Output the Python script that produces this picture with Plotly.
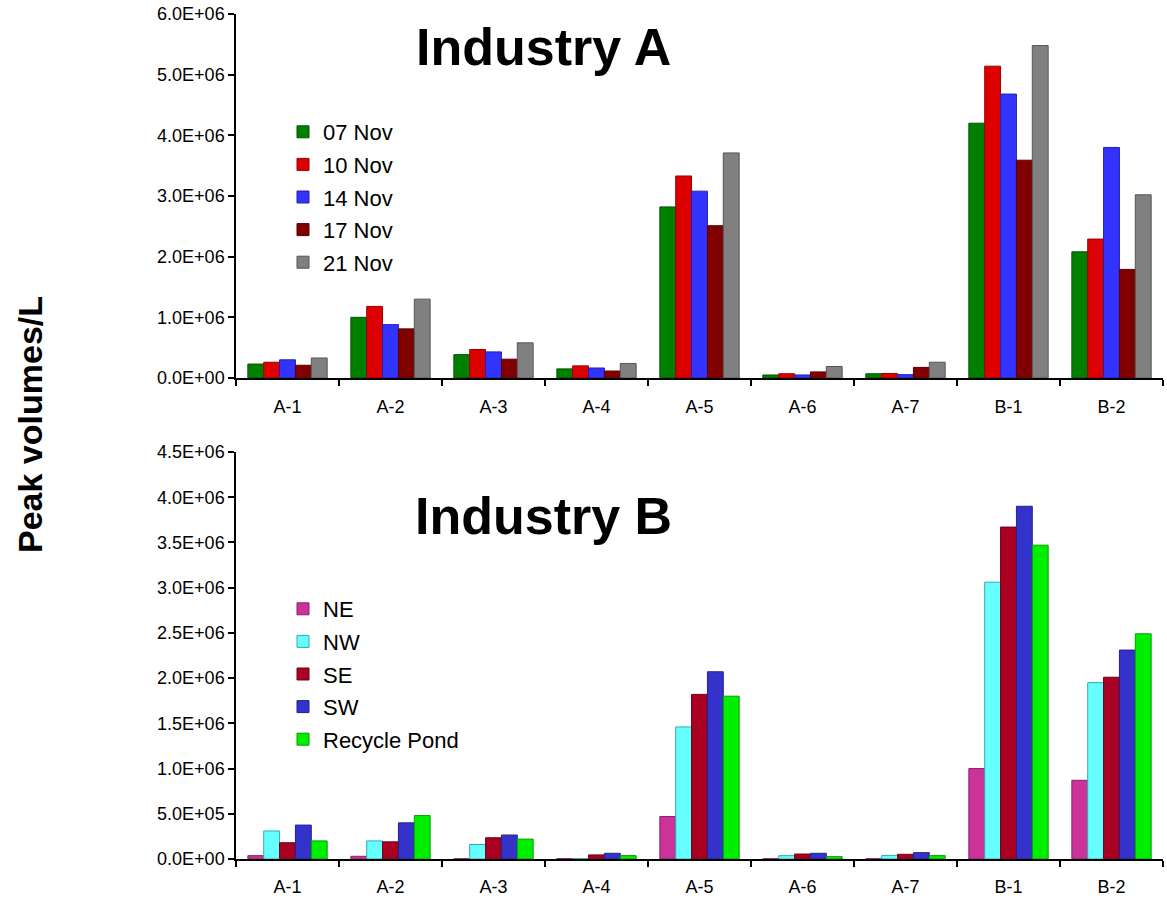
import plotly.graph_objects as go

categories = ["A-1", "A-2", "A-3", "A-4", "A-5", "A-6", "A-7", "B-1", "B-2"]

# Industry A (sampling dates)
nov07 = [0.23e6, 1.00e6, 0.385e6, 0.15e6, 2.82e6, 0.05e6, 0.07e6, 4.20e6, 2.08e6]
nov10 = [0.26e6, 1.18e6, 0.47e6, 0.20e6, 3.33e6, 0.07e6, 0.075e6, 5.14e6, 2.29e6]
nov14 = [0.30e6, 0.88e6, 0.43e6, 0.165e6, 3.08e6, 0.05e6, 0.055e6, 4.68e6, 3.80e6]
nov17 = [0.21e6, 0.81e6, 0.31e6, 0.115e6, 2.51e6, 0.10e6, 0.175e6, 3.59e6, 1.79e6]
nov21 = [0.33e6, 1.30e6, 0.58e6, 0.24e6, 3.71e6, 0.19e6, 0.26e6, 5.48e6, 3.02e6]

# Industry B (locations)
ne = [0.037e6, 0.03e6, 0.003e6, 0.005e6, 0.47e6, 0.003e6, 0.003e6, 1.00e6, 0.87e6]
nw = [0.31e6, 0.20e6, 0.16e6, 0.005e6, 1.46e6, 0.037e6, 0.04e6, 3.06e6, 1.95e6]
se = [0.18e6, 0.19e6, 0.235e6, 0.045e6, 1.82e6, 0.055e6, 0.052e6, 3.67e6, 2.01e6]
sw = [0.375e6, 0.40e6, 0.265e6, 0.063e6, 2.07e6, 0.063e6, 0.07e6, 3.90e6, 2.31e6]
pond = [0.20e6, 0.48e6, 0.22e6, 0.037e6, 1.80e6, 0.026e6, 0.037e6, 3.47e6, 2.49e6]

top_names = ["07 Nov", "10 Nov", "14 Nov", "17 Nov", "21 Nov"]
top_series = [nov07, nov10, nov14, nov17, nov21]
top_colors = ["#008000", "#DD0000", "#3333FF", "#800000", "#808080"]
top_edges = ["#005500", "#990000", "#2222AA", "#550000", "#555555"]

bot_names = ["NE", "NW", "SE", "SW", "Recycle Pond"]
bot_series = [ne, nw, se, sw, pond]
bot_colors = ["#CC3399", "#66FFFF", "#AA0022", "#3333CC", "#00EE00"]
bot_edges = ["#8A2268", "#33AAAA", "#700016", "#222288", "#00A000"]

top_ticks = [i * 1.0e6 for i in range(7)]
bot_ticks = [i * 0.5e6 for i in range(10)]

FONT = "Liberation Sans, Arial, sans-serif"

# body margin removed in the page (post_script), figure fills the window
OFF = 0
W, H = 1167, 909
L, R, T, B = 236, 4, 14, 50
pw = W - L - R
ph = H - T - B


def px_x(page_x):
    return (page_x - OFF - L) / pw


def px_y(page_y):
    return (H - B - (page_y - OFF)) / ph


fig = go.Figure()
for i, (name, vals, c, e) in enumerate(zip(top_names, top_series, top_colors, top_edges)):
    fig.add_trace(go.Bar(x=categories, y=vals, name=name, legendgroup=f"a{i}",
                         marker=dict(color=c, line=dict(color=e, width=1)),
                         xaxis="x", yaxis="y", legend="legend"))
for i, (name, vals, c, e) in enumerate(zip(bot_names, bot_series, bot_colors, bot_edges)):
    fig.add_trace(go.Bar(x=categories, y=vals, name=name, legendgroup=f"b{i}",
                         marker=dict(color=c, line=dict(color=e, width=1)),
                         xaxis="x2", yaxis="y2", legend="legend2"))

top_dom = [px_y(378), 1.0]
bot_dom = [0.0, px_y(452)]

axis_common = dict(showline=True, linecolor="black", linewidth=1.5, ticks="outside", tickcolor="black",
                   ticklen=6, tickwidth=1.5, showgrid=False, zeroline=False, automargin=False,
                   ticklabeloverflow="allow",
                   tickfont=dict(family=FONT, size=18, color="black"))

legend_common = dict(xref="paper", yref="paper", xanchor="left", yanchor="top",
                     font=dict(family=FONT, size=22, color="black"), bgcolor="rgba(0,0,0,0)",
                     itemwidth=30, tracegroupgap=1)

fig.update_layout(
    width=W, height=H,
    margin=dict(l=L, r=R, t=T, b=B, autoexpand=False),
    paper_bgcolor="white", plot_bgcolor="white",
    barmode="group", bargap=0.23, bargroupgap=0,
    font=dict(family=FONT, color="black"),
    xaxis=dict(domain=[0, 1], anchor="y", tickson="boundaries", ticklabelstandoff=12, **axis_common),
    yaxis=dict(domain=top_dom, anchor="x", range=[0, 6e6], tickvals=top_ticks,
               ticktext=[f"{v:.1E}" for v in top_ticks], **axis_common),
    xaxis2=dict(domain=[0, 1], anchor="y2", tickson="boundaries", ticklabelstandoff=11, **axis_common),
    yaxis2=dict(domain=bot_dom, anchor="x2", range=[0, 4.5e6], tickvals=bot_ticks,
                ticktext=[f"{v:.1E}" for v in bot_ticks], **axis_common),
    legend=dict(x=px_x(283), y=px_y(111), **legend_common),
    legend2=dict(x=px_x(283), y=px_y(588), **legend_common),
    annotations=[
        dict(text="<b>Industry A</b>", x=px_x(543), y=px_y(47), xref="paper", yref="paper",
             xanchor="center", yanchor="middle", showarrow=False,
             font=dict(family=FONT, size=52, color="black")),
        dict(text="<b>Industry B</b>", x=px_x(543), y=px_y(516), xref="paper", yref="paper",
             xanchor="center", yanchor="middle", showarrow=False,
             font=dict(family=FONT, size=52, color="black")),
        dict(text="<b>Peak volumes/L</b>", x=px_x(30), y=px_y(425), xref="paper", yref="paper",
             xanchor="center", yanchor="middle", showarrow=False,
             textangle=-90, font=dict(family=FONT, size=34, color="black")),
    ],
)

fig.write_html("out.html", config={"displayModeBar": False},
               post_script="document.body.style.margin='0';document.body.style.overflow='hidden';")
